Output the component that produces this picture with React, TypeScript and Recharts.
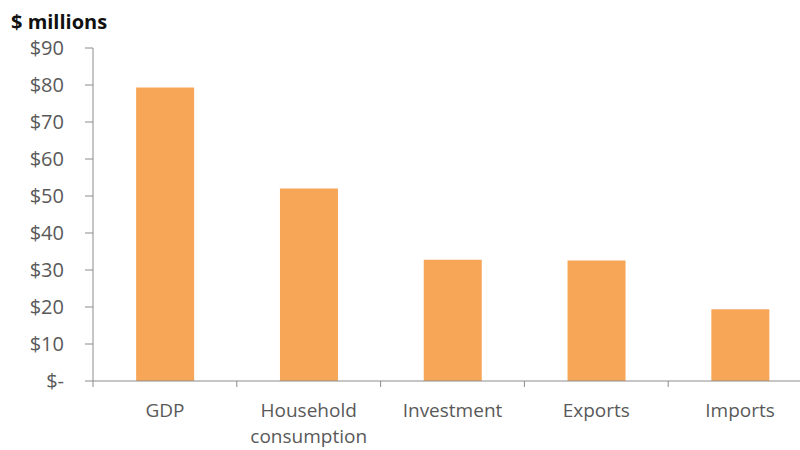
import React from "react";
import { BarChart, Bar, XAxis, YAxis } from "recharts";

const categories = ["GDP", "Household consumption", "Investment", "Exports", "Imports"];
const values = [79.3, 52, 32.8, 32.6, 19.4];
const yTicks = [0, 10, 20, 30, 40, 50, 60, 70, 80, 90];

const data = categories.map((name, i) => ({ name, value: values[i] }));

const FONT = "'Open Sans', Lato, sans-serif";
const AXIS = "#8c8c8c";
const INK = "#595959";

const CategoryTick = (props: any) => {
  const { x, y, payload } = props;
  const half = payload.offset ?? 71.6;
  const words = String(payload.value).split(" ");
  return (
    <g>
      <line x1={x - half} x2={x - half} y1={y - 8} y2={y - 2} stroke={AXIS} />
      <text x={x} y={y + 28} textAnchor="middle" fill={INK} fontSize={19} fontFamily={FONT}>
        {words.map((w, i) => (
          <tspan key={i} x={x} dy={i === 0 ? 0 : 26}>
            {w}
          </tspan>
        ))}
      </text>
    </g>
  );
};

export default function App() {
  return (
    <div style={{ position: "absolute", top: 0, left: 0, width: 800, height: 450, overflow: "hidden", background: "white" }}>
      <div
        style={{
          position: "absolute",
          left: 11,
          top: 10,
          fontFamily: FONT,
          fontWeight: 700,
          fontSize: 20,
          lineHeight: "24px",
          color: "#111",
        }}
      >
        $ millions
      </div>
      <BarChart
        width={812}
        height={450}
        data={data}
        barCategoryGap="30%"
        margin={{ top: 48, right: 0, left: 0, bottom: 0 }}
      >
        <XAxis
          dataKey="name"
          height={69}
          axisLine={{ stroke: AXIS }}
          tickLine={false}
          interval={0}
          tick={<CategoryTick />}
        />
        <YAxis
          width={93}
          domain={[0, 90]}
          ticks={yTicks}
          interval={0}
          axisLine={{ stroke: AXIS }}
          tickLine={{ stroke: AXIS }}
          tickSize={8}
          tickMargin={21}
          tick={{ fill: INK, fontSize: 20, fontFamily: FONT }}
          tickFormatter={(v: number) => (v === 0 ? "$-" : `$${v}`)}
        />
        <Bar dataKey="value" fill="#F7A658" isAnimationActive={false} />
      </BarChart>
    </div>
  );
}
